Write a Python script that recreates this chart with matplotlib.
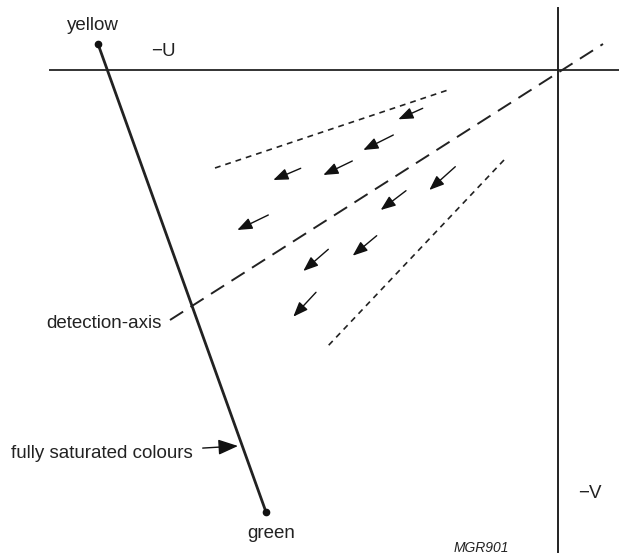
import matplotlib
matplotlib.use("Agg")
import matplotlib.pyplot as plt

plt.rcParams['font.family'] = ['Liberation Sans', 'DejaVu Sans']

# diagram coordinates (pixel units, y pointing down)
u_axis = ([50, 619], [70, 70])
v_axis = ([558, 558], [8, 552])
saturated = ([98, 266], [44, 512])
detection_axis = ([170, 603], [320, 44])
upper_bound = ([215, 448], [168, 90])
lower_bound = ([504, 327], [160, 347])

arrow_tails = [(422.7, 108.3), (393.3, 135.0), (300.7, 168.3), (352.3, 161.0),
               (455.3, 166.7), (268.3, 215.0), (406.0, 190.7), (376.7, 235.7),
               (328.3, 249.3), (316.0, 292.3)]
arrow_heads = [(398.3, 119.3), (363.3, 150.0), (273.3, 180.0), (323.3, 175.0),
               (429.3, 190.0), (237.3, 230.0), (380.7, 210.0), (352.7, 255.7),
               (303.3, 271.0), (293.3, 316.7)]

labels = ["yellow", "\u2212U", "green", "\u2212V", "detection-axis",
          "fully saturated colours"]

fig = plt.figure(figsize=(6.19, 5.58), dpi=100)
ax = fig.add_axes([0, 0, 1, 1])
ax.set_xlim(0, 619)
ax.set_ylim(558, 0)
ax.axis('off')

ax.plot(*u_axis, color='#333333', lw=1.4)
ax.plot(*v_axis, color='#222222', lw=1.4)
ax.plot(*saturated, color='#222222', lw=2.0)
ax.plot(saturated[0], saturated[1], 'o', color='#111111', ms=4.5)
ax.plot(*detection_axis, color='#222222', lw=1.4, dashes=(8, 4.5))
ax.plot(*upper_bound, color='#222222', lw=1.2, dashes=(3.5, 3))
ax.plot(*lower_bound, color='#222222', lw=1.2, dashes=(3.5, 3))

head = '-|>,head_length=0.9,head_width=0.35'
for t, h in zip(arrow_tails, arrow_heads):
    ax.annotate("", xy=h, xytext=t,
                arrowprops=dict(arrowstyle=head, color='#111111', lw=1.0,
                                shrinkA=0, shrinkB=0))

fs = 13.5
ax.text(93, 25, labels[0], fontsize=fs, ha='center', va='center', color='#222222')
ax.text(163, 51, labels[1], fontsize=fs, ha='center', va='center', color='#222222')
ax.text(271, 533, labels[2], fontsize=fs, ha='center', va='center', color='#222222')
ax.text(590, 493, labels[3], fontsize=fs, ha='center', va='center', color='#222222')
ax.text(162, 324, labels[4], fontsize=fs, ha='right', va='center', color='#222222')
ax.annotate(labels[5], xy=(238, 446), xytext=(193, 454), fontsize=fs,
            ha='right', va='center', color='#222222',
            arrowprops=dict(arrowstyle=head, color='#111111', lw=1.0,
                            shrinkA=5, shrinkB=0))
ax.text(481, 548, "MGR901", fontsize=10, style='italic', ha='center', va='center',
        color='#222222')

fig.savefig("out.png", dpi=100)
